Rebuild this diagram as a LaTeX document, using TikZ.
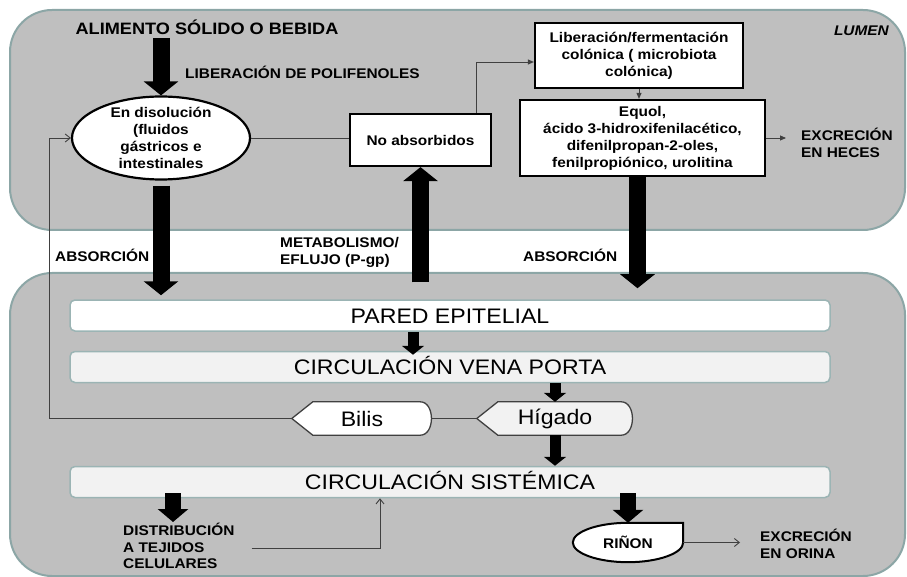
\documentclass[tikz,border=0pt]{standalone}
\usepackage{fontspec}
\setmainfont[FakeStretch=1.1]{Liberation Sans}
\usetikzlibrary{arrows.meta,shapes.geometric,calc,backgrounds}
\pgfdeclarelayer{shapes}
\pgfsetlayers{background,shapes,main}
\definecolor{zonegray}{HTML}{BFBFBF}
\definecolor{zoneedge}{HTML}{8CA6A6}
\definecolor{baredge}{HTML}{9BB4B4}
\definecolor{barfill}{HTML}{F2F2F2}
\newcommand\lblfont{\bfseries\fontsize{14}{17}\selectfont}
\newcommand\titlefont{\bfseries\fontsize{16.5}{19}\selectfont}
\newcommand\regfont{\fontsize{21}{24}\selectfont}
\newcommand\lumenfont{\bfseries\itshape\fontsize{14}{16}\selectfont}
\begin{document}
\begin{tikzpicture}[x=1pt,y=-1pt,
  zone/.style={fill=zonegray, draw=zoneedge, line width=2pt, rounded corners=42pt},
  bar/.style={draw=baredge, line width=1.5pt, rounded corners=5pt, minimum width=760pt, minimum height=31pt, inner sep=0pt, text height=15pt, text depth=0pt, font=\regfont},
  boxw/.style={draw=black, line width=2.2pt, fill=white, inner sep=0pt, align=center, font=\lblfont},
  lbl/.style={font=\lblfont, align=left, inner sep=0pt},
  dispshape/.style={draw=black!75, line width=1.3pt},
  bigarrow/.style={line width=17pt, -{Triangle[width=34pt,length=14pt]}},
  medarrow/.style={line width=16pt, -{Triangle[width=30pt,length=13pt]}},
  midarrow/.style={line width=11pt, -{Triangle[width=22pt,length=9pt]}},
  thinline/.style={line width=0.9pt, draw=black!75},
]
\useasboundingbox (0,0) rectangle (907,577);
\begin{pgfonlayer}{background}
\path[zone] (10,10) rectangle (905,230);
\path[zone] (10,273) rectangle (905,576);
\end{pgfonlayer}

% top zone
\node[font=\titlefont] (alim) at (207,27) {ALIMENTO SÓLIDO O BEBIDA};
\node[lbl, anchor=west] (libpol) at (185,72) {LIBERACIÓN DE POLIFENOLES};
\node[font=\lumenfont, anchor=east, inner sep=0pt] (lumen) at (889,31) {LUMEN};
\node[ellipse, draw=black, line width=2.2pt, fill=white, minimum width=178pt, minimum height=83pt, inner sep=0pt] (disol) at (161,138) {};
\node[lbl, align=center] (disoltxt) at (disol) {En disolución\\(fluidos\\gástricos e\\intestinales};
\node[boxw, minimum width=141pt, minimum height=52pt] (noabs) at (420.5,140) {No absorbidos};
\node[boxw, minimum width=208pt, minimum height=65pt] (lib) at (639,55.5) {Liberación/fermentación\\colónica ( microbiota\\colónica)};
\node[boxw, minimum width=245pt, minimum height=76pt] (equol) at (642.5,138) {Equol,\\ácido 3-hidroxifenilacético,\\difenilpropan-2-oles,\\fenilpropiónico, urolitina};
\node[lbl, anchor=west] (exheces) at (801,143) {EXCRECIÓN\\EN HECES};

% middle labels
\node[lbl, anchor=west] (abs1) at (55,255) {ABSORCIÓN};
\node[lbl, anchor=west] (metab) at (280,252) {METABOLISMO/\\EFLUJO (P-gp)};
\node[lbl, anchor=west] (abs2) at (523,255) {ABSORCIÓN};

% bottom zone
\node[bar, fill=white] (pared) at (450,315.5) {PARED EPITELIAL};
\node[bar, fill=barfill] (vena) at (450,367) {CIRCULACIÓN VENA PORTA};
\node[bar, fill=barfill] (sist) at (450,482) {CIRCULACIÓN SISTÉMICA};
\node[inner sep=0pt, minimum width=140pt, minimum height=33pt, font=\regfont] (bilis) at (362,418.5) {Bilis};
\node[inner sep=0pt, minimum width=156pt, minimum height=33pt, font=\regfont] (higado) at (555,418.5) {Hígado};
\node[inner sep=0pt, minimum width=110pt, minimum height=39pt, font=\lblfont] (rinon) at (628,542.5) {RIÑON};
\node[lbl, anchor=west, font=\bfseries\fontsize{14}{16.3}\selectfont] (distrib) at (123,546) {DISTRIBUCIÓN\\A TEJIDOS\\CELULARES};
\node[lbl, anchor=west] (exorina) at (760,544) {EXCRECIÓN\\EN ORINA};

\begin{pgfonlayer}{shapes}
\draw[dispshape, fill=white] (bilis.west) -- ($(bilis.north west)+(21,0)$) -- ($(bilis.north east)+(-12,0)$)
  .. controls ($(bilis.north east)+(3,0)$) and ($(bilis.south east)+(3,0)$) .. ($(bilis.south east)+(-12,0)$)
  -- ($(bilis.south west)+(21,0)$) -- cycle;
\draw[dispshape, fill=barfill] (higado.west) -- ($(higado.north west)+(21,0)$) -- ($(higado.north east)+(-12,0)$)
  .. controls ($(higado.north east)+(3,0)$) and ($(higado.south east)+(3,0)$) .. ($(higado.south east)+(-12,0)$)
  -- ($(higado.south west)+(21,0)$) -- cycle;
\draw[draw=black, line width=2pt, fill=white] (rinon.north) -- (rinon.north east) -- (rinon.east)
  .. controls ($(rinon.east)+(0,10.8)$) and ($(rinon.south)+(30,0)$) .. (rinon.south)
  .. controls ($(rinon.south)+(-30,0)$) and ($(rinon.west)+(0,10.8)$) .. (rinon.west)
  .. controls ($(rinon.west)+(0,-10.8)$) and ($(rinon.north)+(-30,0)$) .. (rinon.north) -- cycle;
\end{pgfonlayer}

% big arrows
\draw[bigarrow] (disol.north |- alim.south) -- (disol.north);
\draw[bigarrow, shorten <=5pt, shorten >=4pt] (disol.south) -- (disol.south |- pared.north);
\draw[bigarrow, shorten <=17pt] (noabs.south |- pared.north) -- (noabs.south);
\coordinate (eqdown) at ($(equol.south)+(-5,0)$);
\draw[bigarrow, shorten >=11pt] (eqdown) -- (eqdown |- pared.north);

% medium arrows
\coordinate (pv) at ($(pared.south)+(-37,0)$);
\draw[midarrow, shorten >=-4pt] (pv) -- (pv |- vena.north);
\draw[midarrow] (vena.south -| higado.north) -- (higado.north);
\draw[midarrow] (higado.south) -- (sist.north -| higado.north);
\coordinate (dtop) at (173,522);
\draw[medarrow, shorten <=-5pt] (sist.south -| dtop) -- (dtop);
\draw[medarrow, shorten <=-5pt] (sist.south -| rinon.north) -- (rinon.north);

% thin connectors
\coordinate (fbx) at (49,418.5);
\draw[thinline, -{Straight Barb[length=5pt,width=8pt]}] (bilis.west) -- (fbx) |- (disol.west);
\draw[thinline] (disol.east) -- (disol.east -| noabs.west);
\coordinate (c476) at (476,62);
\draw[thinline, -{Triangle[length=6pt,width=5pt]}] (noabs.north -| c476) -- (c476) -- (c476 -| lib.west);
\draw[thinline, -{Triangle[length=6pt,width=5pt]}] (lib.south) -- (lib.south |- equol.north);
\draw[thinline, -{Triangle[length=6pt,width=5pt]}, shorten >=15pt] (equol.east) -- (equol.east -| exheces.west);
\draw[thinline] (bilis.east) -- (higado.west);
\coordinate (dturn) at (380,548);
\draw[thinline, -{Straight Barb[length=5pt,width=8pt]}] ($(distrib.east)+(17,2)$) -| (sist.south -| dturn);
\draw[thinline, -{Straight Barb[length=5pt,width=8pt]}, shorten >=20pt] (rinon.east) -- (rinon.east -| exorina.west);
\end{tikzpicture}
\end{document}
